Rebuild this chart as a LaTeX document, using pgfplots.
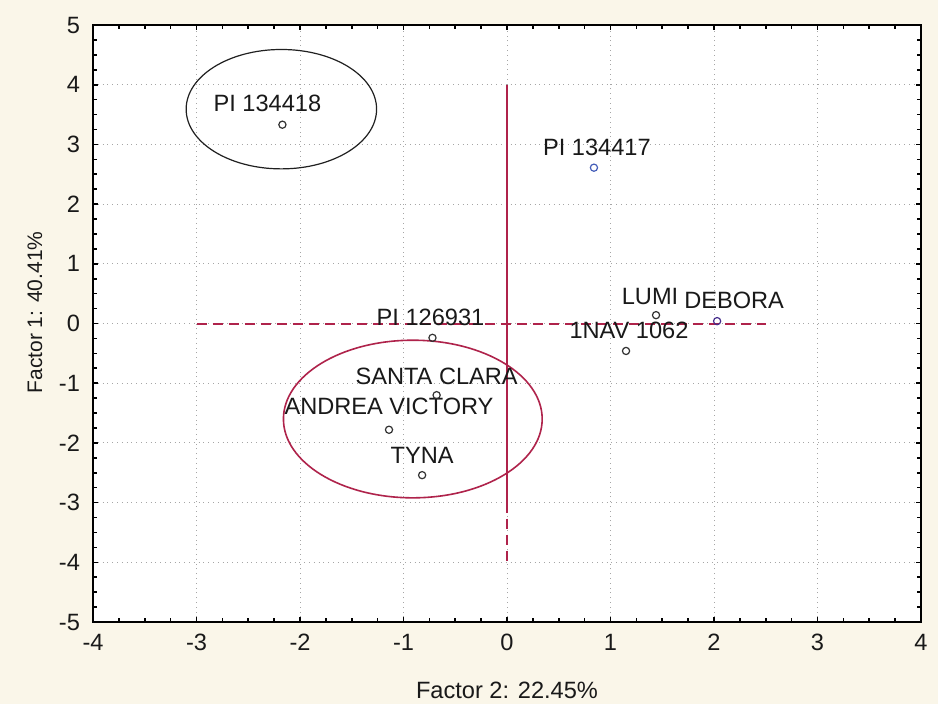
\documentclass[border=0pt]{standalone}
\usepackage{pgfplots}
\pgfplotsset{compat=1.18}
\usepackage{fontspec}
\setmainfont{Liberation Sans}
\usetikzlibrary{backgrounds,calc}
\definecolor{crim}{RGB}{175,35,75}
\definecolor{bgbeige}{RGB}{250,246,233}
\definecolor{mk}{RGB}{50,50,50}
\definecolor{mkblue}{RGB}{70,95,185}
\definecolor{mkpurp}{RGB}{70,45,140}
\definecolor{txt}{RGB}{25,25,25}
\tikzset{pl/.style={text=txt, font=\fontsize{11.8}{14}\selectfont}}
\begin{document}
\begin{tikzpicture}
\begin{axis}[
  scale only axis,
  width=414pt, height=298.5pt,
  xmin=-4, xmax=4, ymin=-5, ymax=5,
  xtick={-4,...,4}, ytick={-5,...,5},
  minor tick num=3,
  tick align=inside,
  major tick length=2.5pt, minor tick length=2pt,
  every tick/.style={black, line width=0.8pt},
  axis line style={black, line width=1pt},
  grid=major,
  major grid style={gray!70, dotted, line width=0.5pt},
  axis background/.style={fill=white},
  /pgf/number format/assume math mode=true,
  tick label style={font=\fontsize{11.8}{14}\selectfont, text=txt},
  xticklabel style={yshift=-2.5pt},
  yticklabel style={xshift=-3pt},
  xlabel={Factor 2: 22.45\%},
  ylabel={Factor 1: 40.41\%},
  every axis x label/.style={at={([yshift=-34pt]axis description cs:0.5,0)}, anchor=center, font=\fontsize{11.8}{14}\selectfont, text=txt},
  every axis y label/.style={at={([xshift=-29pt, yshift=5.5pt]axis description cs:0,0.5)}, anchor=center, rotate=90, font=\fontsize{10.5}{12}\selectfont, text=txt},
  clip=false,
]
% reference lines
\addplot[draw=crim, dash pattern=on 5pt off 3pt, line width=1pt] coordinates {(-3,0) (2.5,0)};
\addplot[draw=crim, line width=1pt] coordinates {(0,4) (0,-3)};
\addplot[draw=crim, dash pattern=on 5pt off 3pt, line width=1pt] coordinates {(0,-3) (0,-4)};
% ellipses
\draw[gray!25!black, line width=0.6pt] (axis cs:-2.18,3.59) ellipse [x radius=0.92, y radius=1.0];
\draw[crim, line width=0.8pt] (axis cs:-0.91,-1.60) ellipse [x radius=1.25, y radius=1.32];
% points
\addplot[only marks, mark=o, mark size=1.8pt, mk, mark options={line width=0.6pt}] coordinates {(-2.17,3.33)} node[pl, xshift=-7.5pt, yshift=10.5pt] {PI 134418};
\addplot[only marks, mark=o, mark size=1.8pt, mkblue, mark options={line width=0.6pt}] coordinates {(0.84,2.61)} node[pl, xshift=1.5pt, yshift=10pt] {PI 134417};
\addplot[only marks, mark=o, mark size=1.8pt, mk, mark options={line width=0.6pt}] coordinates {(1.44,0.14)} node[pl, xshift=-3pt, yshift=9.5pt] {LUMI};
\addplot[only marks, mark=o, mark size=1.8pt, mkpurp, mark options={line width=0.6pt}] coordinates {(2.03,0.04)} node[pl, xshift=8.5pt, yshift=10.5pt] {DEBORA};
\addplot[only marks, mark=o, mark size=1.8pt, mk, mark options={line width=0.6pt}] coordinates {(1.15,-0.46)} node[pl, xshift=1.5pt, yshift=10.5pt] {1NAV 1062};
\addplot[only marks, mark=o, mark size=1.8pt, mk, mark options={line width=0.6pt}] coordinates {(-0.72,-0.24)} node[pl, xshift=-1pt, yshift=10pt] {PI 126931};
\addplot[only marks, mark=o, mark size=1.8pt, mk, mark options={line width=0.6pt}] coordinates {(-0.68,-1.20)} node[pl, xshift=0pt, yshift=9.5pt] {SANTA CLARA};
\addplot[only marks, mark=o, mark size=1.8pt, mk, mark options={line width=0.6pt}] coordinates {(-1.14,-1.78)} node[pl, xshift=0pt, yshift=11.5pt] {ANDREA VICTORY};
\addplot[only marks, mark=o, mark size=1.8pt, mk, mark options={line width=0.6pt}] coordinates {(-0.82,-2.54)} node[pl, xshift=0pt, yshift=10pt] {TYNA};
\end{axis}
\begin{pgfonlayer}{background}
\fill[bgbeige] ($(current axis.south west)+(-46.5pt,-41pt)$) rectangle ($(current axis.north east)+(8.5pt,12.5pt)$);
\end{pgfonlayer}
\end{tikzpicture}
\end{document}
